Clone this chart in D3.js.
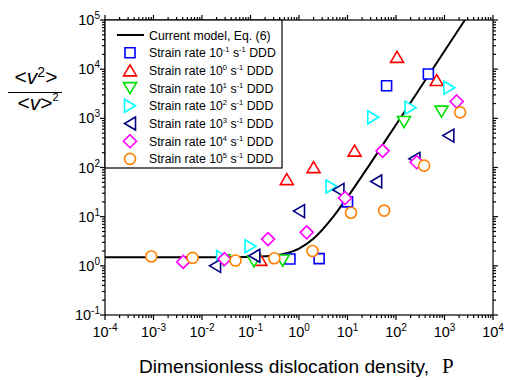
<!DOCTYPE html>
<html>
<head>
<meta charset="utf-8">
<script src="https://cdn.jsdelivr.net/npm/d3@7"></script>
<style>
  body { margin: 0; background: #fff; }
  text { font-family: "Liberation Sans", Arial, sans-serif; fill: #000; }
</style>
</head>
<body>
<div id="chart"></div>
<script>
// model curve, Eq. (6)
const modelP = [1e-4, 0.01, 0.1, 0.2, 0.5, 1, 2, 5, 10, 30, 100, 300, 1000, 2700]
const modelY = [1.5, 1.5, 1.52, 1.57, 1.76, 2.24, 3.59, 9.77, 24.9, 123, 742, 3846, 23400, 103800]

// DDD data, one pair of arrays per strain rate
const rateP_m1 = [0.65, 2.6, 10, 64, 465]
const rateY_m1 = [1.38, 1.4, 20, 4600, 8000]
const rateP_0 = [0.16, 0.56, 2.0, 14, 105, 690]
const rateY_0 = [1.32, 58, 102, 220, 17800, 6000]
const rateP_1 = [0.028, 0.118, 0.46, 146, 870]
const rateY_1 = [1.3, 1.23, 1.28, 840, 1370]
const rateP_2 = [0.026, 0.10, 4.7, 34, 200, 1260]
const rateY_2 = [1.5, 2.5, 41, 1050, 1650, 4200]
const rateP_3 = [0.0186, 0.12, 1.0, 6.5, 39, 240, 1200]
const rateY_3 = [1.0, 1.6, 13, 35, 52, 150, 445]
const rateP_4 = [0.0041, 0.029, 0.23, 1.44, 8.9, 53, 268, 1780]
const rateY_4 = [1.2, 1.37, 3.5, 4.8, 24, 218, 128, 2200]
const rateP_5 = [0.0009, 0.0064, 0.049, 0.31, 1.9, 11.8, 57, 380, 2100]
const rateY_5 = [1.55, 1.45, 1.28, 1.43, 2.0, 12, 13.3, 109, 1320]

const rateExp = ['-1', '0', '1', '2', '3', '4', '5']
const xExtent = [1e-4, 1e4]
const yExtent = [1e-1, 1e5]

// marker shapes / colours
const shapes = {
  square: 'M-5,-5L5,-5L5,5L-5,5Z',
  up: 'M0,-5.5L6.5,5.5L-6.5,5.5Z',
  down: 'M0,5.5L6.5,-5.5L-6.5,-5.5Z',
  right: 'M-5.5,-6.5L5.5,0L-5.5,6.5Z',
  left: 'M5.5,-6.5L-5.5,0L5.5,6.5Z',
  diamond: 'M0,-6.5L6.5,0L0,6.5L-6.5,0Z',
  circle: 'M5.5,0A5.5,5.5 0 1,1 -5.5,0A5.5,5.5 0 1,1 5.5,0Z'
}

let series = [
  { P: rateP_m1, Y: rateY_m1, shape: 'square', color: '#0000ff' },
  { P: rateP_0, Y: rateY_0, shape: 'up', color: '#ff0000' },
  { P: rateP_1, Y: rateY_1, shape: 'down', color: '#00e000' },
  { P: rateP_2, Y: rateY_2, shape: 'right', color: '#00ffff' },
  { P: rateP_3, Y: rateY_3, shape: 'left', color: '#000080' },
  { P: rateP_4, Y: rateY_4, shape: 'diamond', color: '#ff00ff' },
  { P: rateP_5, Y: rateY_5, shape: 'circle', color: '#ff8000' }
]

let margin = {top: 20, right: 12, bottom: 65, left: 105},
    width = 505 - margin.left - margin.right,
    height = 380 - margin.top - margin.bottom

let svg = d3.select('#chart').append('svg')
  .attr('width', 505)
  .attr('height', 380)

let g = svg.append('g')
  .attr('transform', 'translate(' + margin.left + ',' + margin.top + ')')

let x = d3.scaleLog().domain(xExtent).range([0, width])
let y = d3.scaleLog().domain(yExtent).range([height, 0])

svg.append('defs').append('clipPath').attr('id', 'clip')
  .append('rect').attr('width', width).attr('height', height)

// model curve
let line = d3.line()
  .x((d, i) => x(modelP[i]))
  .y((d, i) => y(modelY[i]))
  .curve(d3.curveMonotoneX)

g.append('path')
  .attr('clip-path', 'url(#clip)')
  .attr('d', line(modelP))
  .attr('fill', 'none')
  .attr('stroke', '#000')
  .attr('stroke-width', 2)

// markers
series.forEach(function(s) {
  g.append('g').selectAll('path')
    .data(s.P.map((p, i) => [p, s.Y[i]]))
    .enter().append('path')
    .attr('d', shapes[s.shape])
    .attr('transform', d => 'translate(' + x(d[0]) + ',' + y(d[1]) + ')')
    .attr('fill', '#fff')
    .attr('stroke', s.color)
    .attr('stroke-width', 1.6)
})

// frame + ticks (all outward)
const isMajor = v => Math.abs(Math.log10(v) - Math.round(Math.log10(v))) < 1e-6
let axisG = g.append('g').attr('stroke', '#000').attr('stroke-width', 1.2)
axisG.append('rect').attr('width', width).attr('height', height).attr('fill', 'none')

x.ticks().forEach(function(v) {
  let len = isMajor(v) ? 5 : 3
  axisG.append('line').attr('x1', x(v)).attr('x2', x(v)).attr('y1', height).attr('y2', height + len)
  axisG.append('line').attr('x1', x(v)).attr('x2', x(v)).attr('y1', 0).attr('y2', -len)
})
y.ticks().forEach(function(v) {
  let len = isMajor(v) ? 5 : 3
  axisG.append('line').attr('y1', y(v)).attr('y2', y(v)).attr('x1', 0).attr('x2', -len)
  axisG.append('line').attr('y1', y(v)).attr('y2', y(v)).attr('x1', width).attr('x2', width + len)
})

// tick labels: 10^n
function powLabel(sel, exp) {
  sel.append('tspan').text('10')
  sel.append('tspan').attr('dy', -6).attr('font-size', 10).text(exp)
}
x.ticks().filter(isMajor).forEach(function(v) {
  let t = g.append('text')
    .attr('x', x(v))
    .attr('y', height + 22)
    .attr('text-anchor', 'middle')
    .attr('font-size', 14.5)
  powLabel(t, Math.round(Math.log10(v)))
})
y.ticks().filter(isMajor).forEach(function(v) {
  let t = g.append('text')
    .attr('x', -5)
    .attr('y', y(v) + 5)
    .attr('text-anchor', 'end')
    .attr('font-size', 14.5)
  powLabel(t, Math.round(Math.log10(v)))
})

// axis titles
svg.append('text')
  .attr('x', 139)
  .attr('y', 373)
  .attr('font-size', 18)
  .attr('textLength', 290)
  .attr('lengthAdjust', 'spacingAndGlyphs')
  .text('Dimensionless dislocation density,')
svg.append('text')
  .attr('x', 442)
  .attr('y', 373)
  .attr('font-size', 21)
  .style('font-family', '"Liberation Serif", "Times New Roman", serif')
  .text('\u03A1')

let num = svg.append('text').attr('x', 36).attr('y', 84).attr('text-anchor', 'middle').attr('font-size', 21)
num.append('tspan').text('<')
num.append('tspan').attr('font-style', 'italic').text('v')
num.append('tspan').attr('dy', -7).attr('font-size', 14).text('2')
num.append('tspan').attr('dy', 7).text('>')
svg.append('line').attr('x1', 8).attr('x2', 62).attr('y1', 92.5).attr('y2', 92.5)
  .attr('stroke', '#000').attr('stroke-width', 1.2)
let den = svg.append('text').attr('x', 38).attr('y', 110).attr('text-anchor', 'middle').attr('font-size', 21)
den.append('tspan').text('<')
den.append('tspan').attr('font-style', 'italic').text('v')
den.append('tspan').text('>')
den.append('tspan').attr('dy', -9).attr('font-size', 11).text('2')

// legend
let legend = g.append('g')
legend.append('rect')
  .attr('width', 177).attr('height', 148)
  .attr('fill', '#fff').attr('stroke', '#000').attr('stroke-width', 1.2)

let rowH = 17.7
let legFont = 12.3
legend.append('line')
  .attr('x1', 12).attr('x2', 39).attr('y1', 15).attr('y2', 15)
  .attr('stroke', '#000').attr('stroke-width', 2)
legend.append('text').attr('x', 44).attr('y', 19.5).attr('font-size', legFont)
  .text('Current model, Eq. (6)')

// each row written piece by piece so superscripts sit right after their base
series.forEach(function(s, i) {
  let cy = 15 + rowH * (i + 1)
  legend.append('path')
    .attr('d', shapes[s.shape])
    .attr('transform', 'translate(25,' + cy + ')')
    .attr('fill', '#fff')
    .attr('stroke', s.color)
    .attr('stroke-width', 1.6)
  let pieces = [
    ['Strain rate 10', legFont, 0], [rateExp[i], 7.5, -5],
    ['\u00A0s', legFont, 0], ['-1', 7.5, -5], ['\u00A0DDD', legFont, 0]
  ]
  let cx = 44
  pieces.forEach(function(p) {
    let t = legend.append('text')
      .attr('x', cx).attr('y', cy + 4.5 + p[2])
      .attr('font-size', p[1])
      .text(p[0])
    cx += t.node().getComputedTextLength()
  })
})
</script>
</body>
</html>
